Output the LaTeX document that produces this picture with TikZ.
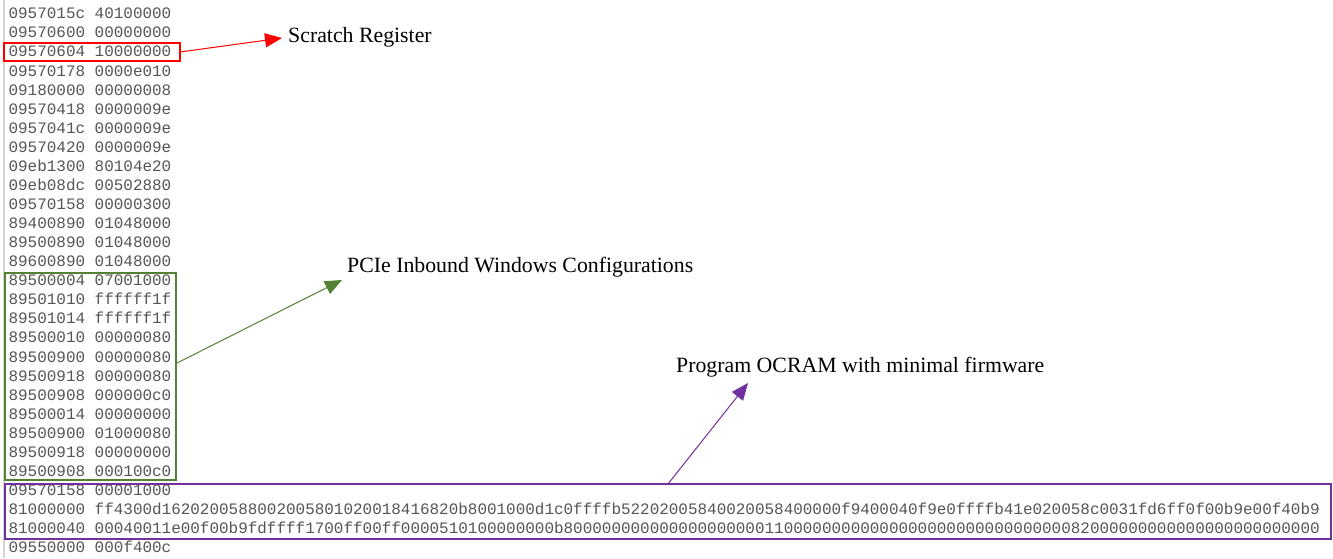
\documentclass[tikz,border=0pt]{standalone}
\usepackage{fontspec}
\setmainfont{Liberation Serif}
\newfontfamily\hexfont{Liberation Mono}
\usetikzlibrary{arrows.meta,calc}
\definecolor{hexgray}{RGB}{85,85,85}
\definecolor{regred}{RGB}{255,0,0}
\definecolor{wingreen}{RGB}{84,130,53}
\definecolor{fwpurple}{RGB}{112,48,160}
\definecolor{editoredge}{RGB}{212,212,212}

% 64-byte firmware blocks, one 32-bit word per source line
\newcommand\fwlineA{%
ff4300d1%
62020058%
80020058%
01020018%
416820b8%
001000d1%
c0ffffb5%
22020058%
40020058%
400000f9%
400040f9%
e0ffffb4%
1e020058%
c0031fd6%
ff0f00b9%
e00f40b9}
\newcommand\fwlineB{%
00040011%
e00f00b9%
fdffff17%
00ff00ff%
00005101%
00000000%
b8000000%
00000000%
00000011%
00000000%
00000000%
00000000%
00000082%
00000000%
00000000%
00000000}

\begin{document}
\begin{tikzpicture}[x=1pt,y=-1pt,
  hexrow/.style={anchor=base west, inner sep=0pt, text=hexgray,
    font=\hexfont\fontsize{15.95}{19}\selectfont},
  notetext/.style={anchor=base west, inner sep=0pt, text=black,
    font=\fontsize{21.8}{25}\selectfont},
  markbox/.style={draw=#1, line width=2.8pt, inner sep=0pt, outer sep=0pt},
  pointer/.style={draw=#1, line width=1pt, -{Triangle[length=17pt,width=14pt]}}
]
\useasboundingbox (0,0) rectangle (1333,558);
\fill[white] (0,0) rectangle (1333,558);

% editor gutter line
\draw[editoredge, line width=1.5pt] (4,0) -- (4,558);

% register write log: address / value
\foreach \i/\a/\d in {
  1/0957015c/40100000,
  2/09570600/00000000,
  3/09570604/10000000,
  4/09570178/0000e010,
  5/09180000/00000008,
  6/09570418/0000009e,
  7/0957041c/0000009e,
  8/09570420/0000009e,
  9/09eb1300/80104e20,
  10/09eb08dc/00502880,
  11/09570158/00000300,
  12/89400890/01048000,
  13/89500890/01048000,
  14/89600890/01048000,
  15/89500004/07001000,
  16/89501010/ffffff1f,
  17/89501014/ffffff1f,
  18/89500010/00000080,
  19/89500900/00000080,
  20/89500918/00000080,
  21/89500908/000000c0,
  22/89500014/00000000,
  23/89500900/01000080,
  24/89500918/00000000,
  25/89500908/000100c0,
  26/09570158/00001000,
  27/81000000/\fwlineA,
  28/81000040/\fwlineB,
  29/09550000/000f400c}
  \node[hexrow] (r\i) at (8.4, {14+(\i-1)*19.07+4.8}) {\a\ \d};

% highlighted groups
\node[markbox=regred, minimum width=176pt, minimum height=18pt] (sbox) at (92,52) {};
\node[markbox=wingreen, minimum width=171pt, minimum height=207pt] (gbox) at (90.5,376.5) {};
\node[markbox=fwpurple, minimum width=1326pt, minimum height=55pt] (obox) at (668,511.5) {};

% annotations
\node[notetext] (slabel) at (288,42) {Scratch Register};
\node[notetext] (plabel) at (347,272.5) {PCIe Inbound Windows Configurations};
\node[notetext] (olabel) at (676,372.5) {Program OCRAM with minimal firmware};

\coordinate (stip) at (282,38);
\coordinate (ptip) at (342,280);
\coordinate (otip) at (748,383);

\draw[pointer=regred] (sbox.east) -- (stip);
\draw[pointer=wingreen] ([yshift=13pt]gbox.east) -- (ptip);
\draw[pointer=fwpurple] (obox.north) -- (otip);
\end{tikzpicture}
\end{document}
